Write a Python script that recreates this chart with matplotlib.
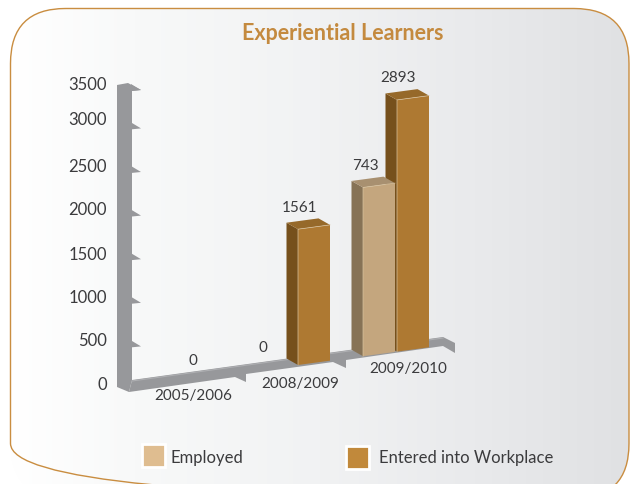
import numpy as np
import matplotlib
matplotlib.use('Agg')
import matplotlib.pyplot as plt
from matplotlib.colors import LinearSegmentedColormap
from matplotlib.patches import FancyBboxPatch, Polygon, Rectangle

plt.rcParams['font.family'] = ['Lato', 'DejaVu Sans']

categories = ['2005/2006', '2008/2009', '2009/2010']
employed_labels = ['0', '0', '743']
# the 743 bar is drawn far taller than its label says, keep what the picture shows
employed_heights = [0, 0, 1940]
entered_labels = [None, '1561', '2893']
entered_heights = [0, 1561, 2893]
tick_labels = ['0', '500', '1000', '1500', '2000', '2500', '3000', '3500']
tick_values = [0, 500, 1000, 1500, 2000, 2500, 3000, 3440]

GREY = '#97989b'
TEXT = '#3b3b3d'
SCALE = 0.0870
SLOPE = 0.135
BAR_W = 32


def project(x, v=0, d=0):
    # x along the floor, v up the value axis, d is depth into the chart (0-1)
    return (x - 11.5 * d, 365 - SLOPE * (x - 298) - v * SCALE - 6.5 * d)


def draw_bar(ax, x, v, front, side, top):
    a = project(x, 0)
    b = project(x + BAR_W, 0)
    c = project(x + BAR_W, v)
    e = project(x, v)
    a2 = project(x, 0, 1)
    e2 = project(x, v, 1)
    c2 = project(x + BAR_W, v, 1)
    ax.add_patch(Polygon([a, e, e2, a2], fc=side, ec='none', zorder=3))
    ax.add_patch(Polygon([e, c, c2, e2], fc=top, ec='none', zorder=3))
    ax.add_patch(Polygon([a, b, c, e], fc=front, ec='none', zorder=3))
    ax.plot([a[0], e[0], c[0]], [a[1], e[1], c[1]], color='#d8c3a0', lw=0.5, zorder=3)


fig = plt.figure(figsize=(6.31, 4.84), dpi=100)
ax = fig.add_axes([0, 0, 1, 1])

# panel with the horizontal gradient
panel = FancyBboxPatch((10.5, 8.5), 618.5, 490, boxstyle='round,pad=0,rounding_size=55',
                       fc='none', ec='#c98d40', lw=1.0, zorder=2)
ax.add_patch(panel)
cmap = LinearSegmentedColormap.from_list('bg', [(0, '#ffffff'), (0.2, '#f8f9f9'), (0.5, '#f1f2f3'),
                                                (0.75, '#e9eaec'), (1, '#e0e1e3')])
img = ax.imshow(np.linspace(0, 1, 256).reshape(1, -1), cmap=cmap, extent=(10, 630, 499, 8),
                aspect='auto', zorder=1)
img.set_clip_path(panel)

ax.text(343, 33, 'Experiential Learners', color='#c48a3f', fontsize=15.5, fontweight='bold',
        ha='center', va='center', zorder=5)

# floor
ax.add_patch(Polygon([(132, 380), (443, 337), (455, 343), (455, 353), (443, 346), (346, 360),
                      (346, 368), (333, 362), (246, 374), (246, 382), (235, 377), (129, 392)],
                     fc=GREY, ec='none', zorder=2))
ax.plot([132, 443], [381, 338], color='#aeafb2', lw=0.8, zorder=2)

# wall
ax.add_patch(Polygon([(117, 85), (128, 83), (141, 90), (132, 91), (132, 380), (129, 392), (117, 387)],
                     fc=GREY, ec='none', zorder=2))
for v in tick_values[1:]:
    y = 390 - v * 0.0872
    ax.add_patch(Polygon([(131, y - 6), (141, y), (131, y + 1)], fc=GREY, ec='none', zorder=2))

for lab, y in zip(tick_labels, [385, 341, 298, 255, 210, 167, 120, 85]):
    ax.text(107, y, lab, color=TEXT, fontsize=12, ha='right', va='center', zorder=5)

# bars, entered first since the employed bar hides part of its side
group_x = [165, 264, 363]
entered_x = [g + 34 for g in group_x]
for x, v in zip(entered_x, entered_heights):
    if v > 0:
        draw_bar(ax, x, v, '#ae7932', '#76501c', '#96692a')
for x, v in zip(group_x, employed_heights):
    if v > 0:
        draw_bar(ax, x, v, '#c4a67e', '#877356', '#a89070')

for x, v, lab, dx in zip(group_x, employed_heights, employed_labels, [26, -3, 1]):
    px, py = project(x, v, 1)
    ax.text(px + dx + 13, py - 15, lab, color=TEXT, fontsize=11, ha='center', va='center', zorder=5)
for x, v, lab in zip(entered_x, entered_heights, entered_labels):
    if lab:
        px, py = project(x, v, 1)
        ax.text(px + 13, py - 15, lab, color=TEXT, fontsize=11, ha='center', va='center', zorder=5)

for lab, xy in zip(categories, [(193, 396), (300, 384), (408, 369)]):
    ax.text(xy[0], xy[1], lab, color=TEXT, fontsize=11, ha='center', va='center', zorder=5)

# legend
for x, y, col, lab, tx in [(142, 444, '#dfbd90', 'Employed', 171),
                           (346, 446, '#c1893b', 'Entered into Workplace', 379)]:
    ax.add_patch(Rectangle((x, y), 23, 23, fc=col, ec='white', lw=2, zorder=3))
    ax.text(tx, 458, lab, color=TEXT, fontsize=12, ha='left', va='center', zorder=5)

ax.set_xlim(0, 631)
ax.set_ylim(484, 0)
ax.axis('off')
fig.savefig('out.png', dpi=100)
